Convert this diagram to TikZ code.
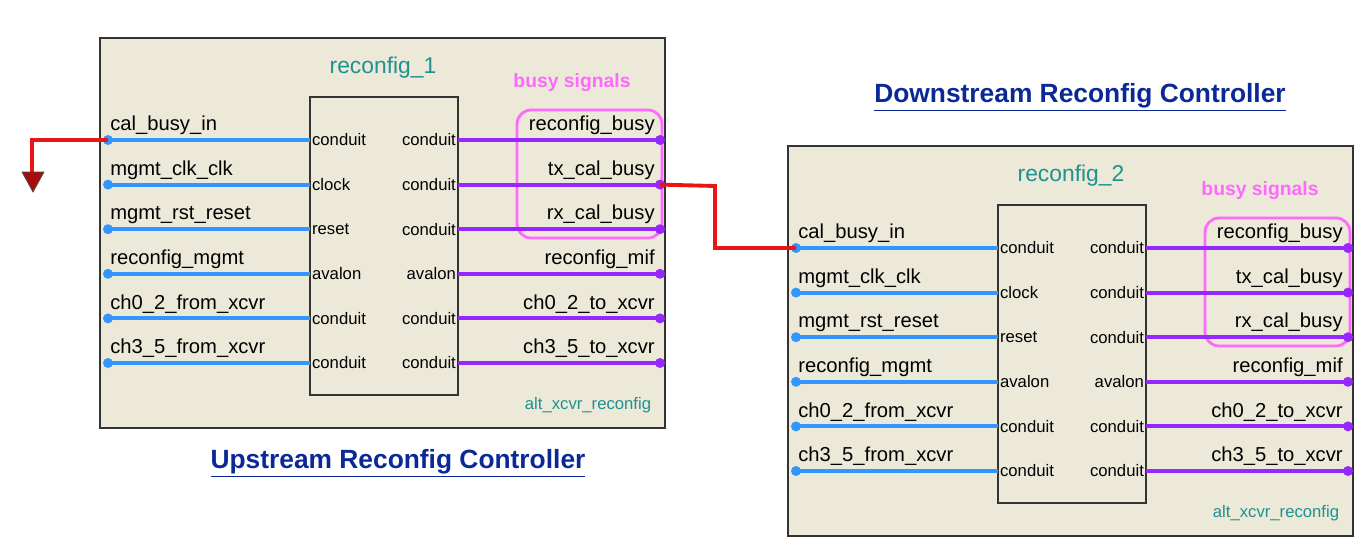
\documentclass[tikz,border=0pt]{standalone}
\usepackage{fontspec}
\setmainfont{Liberation Sans}
\usetikzlibrary{positioning}
\definecolor{blockbg}{RGB}{236,233,216}
\definecolor{portblue}{RGB}{51,150,255}
\definecolor{portpurple}{RGB}{150,40,255}
\definecolor{titleteal}{RGB}{30,145,145}
\definecolor{busypink}{RGB}{255,105,255}
\definecolor{capblue}{RGB}{10,40,150}
\definecolor{wirered}{RGB}{235,20,20}
\tikzset{
  outer/.style={draw=black!80, line width=1pt, fill=blockbg},
  inner/.style={draw=black!80, line width=0.8pt, fill=blockbg},
  inwire/.style={portblue, line width=2.2pt},
  outwire/.style={portpurple, line width=2.2pt},
  plabel/.style={font=\fontsize{11.5}{13}\selectfont, inner sep=0pt},
  ilabel/.style={font=\fontsize{9.5}{11}\selectfont, inner sep=1pt},
  redwire/.style={wirered, line width=2.2pt},
}
% one reconfig controller block, origin at its top left corner
\newcommand\reconfblock[4]{%
  \begin{scope}[shift={(#1)}]
    \draw[outer] (0,0) rectangle (565,390);
    \draw[inner] (210,59) rectangle (358,357);
    \node[text=titleteal, font=\fontsize{13}{15}\selectfont] (#2title) at (283,30) {#3};
    \node[text=busypink, font=\bfseries\fontsize{11}{13}\selectfont] (#2busy) at (472,45) {busy signals};
    \draw[busypink, line width=1.6pt, rounded corners=8pt] (417,72) rectangle (562,200);
    \node[text=titleteal, font=\fontsize{9.5}{11}\selectfont] (#2type) at (488,367) {alt\_xcvr\_reconfig};
    \foreach \il/\ip/\op/\ol [count=\i from 0] in #4 {
      \pgfmathsetmacro\ry{102+44.6*\i}
      \coordinate (#2in\i) at (8,\ry);
      \coordinate (#2out\i) at (560,\ry);
      \draw[inwire] (#2in\i) -- (210,\ry);
      \fill[portblue] (#2in\i) circle (5);
      \draw[outwire] (358,\ry) -- (#2out\i);
      \fill[portpurple] (#2out\i) circle (5);
      \node[plabel, anchor=south west] at (10,\ry-5) {\il};
      \node[plabel, anchor=south east] at (555,\ry-5) {\ol};
      \node[ilabel, anchor=west] at (210,\ry) {\ip};
      \node[ilabel, anchor=east] at (358,\ry) {\op};
    }
  \end{scope}}
\begin{document}
\begin{tikzpicture}[x=0.02cm, y=-0.02cm]
\useasboundingbox (0,0) rectangle (1372,558);
\def\ports{cal\_busy\_in/conduit/conduit/reconfig\_busy,
  mgmt\_clk\_clk/clock/conduit/tx\_cal\_busy,
  mgmt\_rst\_reset/reset/conduit/rx\_cal\_busy,
  reconfig\_mgmt/avalon/avalon/reconfig\_mif,
  ch0\_2\_from\_xcvr/conduit/conduit/ch0\_2\_to\_xcvr,
  ch3\_5\_from\_xcvr/conduit/conduit/ch3\_5\_to\_xcvr}
\reconfblock{100,38}{up}{reconfig\_1}{\ports}
\reconfblock{788,146}{down}{reconfig\_2}{\ports}
% captions
\node[text=capblue, font=\bfseries\fontsize{15}{17}\selectfont] (upcap) at (398,463) {\underline{Upstream Reconfig Controller}};
\node[text=capblue, font=\bfseries\fontsize{15}{17}\selectfont] (downcap) at (1080,97) {\underline{Downstream Reconfig Controller}};
% red busy links
\coordinate (gnd) at (32,175);
\draw[redwire] (upin0) -| (gnd);
\draw[black!70, fill=wirered!70!black] (22,172) -- (44,172) -- (33,192) -- cycle;
\draw[redwire] (upout1) -- (715,186) |- (downin0);
\end{tikzpicture}
\end{document}
